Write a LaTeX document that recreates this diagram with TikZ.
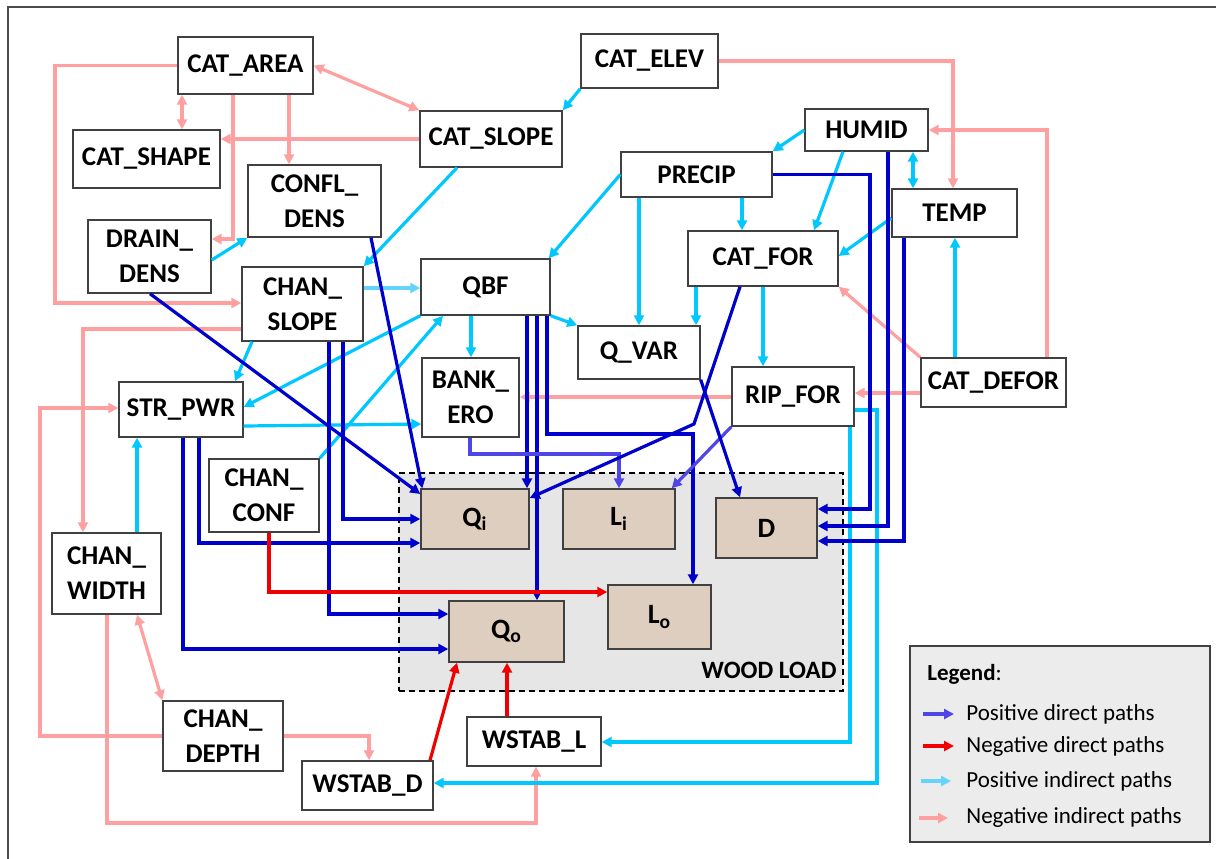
\documentclass[tikz,border=0pt]{standalone}
\usepackage{fontspec}
\setmainfont{Carlito}
\usetikzlibrary{arrows.meta}
\definecolor{dblue}{RGB}{0,0,205}
\definecolor{pblue}{RGB}{80,70,230}
\definecolor{redc}{RGB}{240,0,0}
\definecolor{cyanc}{RGB}{0,200,255}
\definecolor{lcyan}{RGB}{100,212,255}
\definecolor{pinkc}{RGB}{255,160,160}
\definecolor{tanc}{RGB}{222,206,192}
\definecolor{woodc}{RGB}{230,230,230}
\definecolor{legc}{RGB}{236,236,236}
\tikzset{
  Tr/.tip={Triangle[length=5pt,width=5pt]},
  box/.style={draw=black!75, line width=0.7pt, fill=white, inner sep=0pt, align=center,
    font=\bfseries\fontsize{13.5}{17.5}\selectfont},
  tanbox/.style={fill=tanc, font=\bfseries\fontsize{14}{16}\selectfont},
  woodbox/.style={draw=black, fill=woodc, line width=1pt, dash pattern=on 3pt off 2pt},
  legbox/.style={draw=black!75, fill=legc, line width=0.8pt},
  legtext/.style={font=\fontsize{11.5}{13}\selectfont, inner sep=0pt},
  conn/.style={line width=1.6pt, -Tr},
  pdir/.style={conn, draw=dblue},
  pdirl/.style={conn, draw=pblue},
  ndir/.style={conn, draw=redc},
  pind/.style={conn, draw=cyanc},
  pindl/.style={conn, draw=lcyan},
  nind/.style={conn, draw=pinkc},
  twoway/.style={Tr-Tr},
}
\newcommand\Bx[7][]{\node[box,#1,minimum width={0.5pt*(#5-#3)},minimum height={0.5pt*(#6-#4)}] (#2) at ({(#3+#5)/2},{(#4+#6)/2}) {#7};}
\begin{document}
\begin{tikzpicture}[x=0.5pt,y=-0.5pt]
\useasboundingbox (0,0) rectangle (1216,858);
\draw[black!70, line width=0.6pt] (8,862) -- (8,7) -- (1220,7);
% wood load area
\Bx[woodbox]{wood}{399}{473}{843}{691}{}
\node[font=\bfseries\fontsize{12.5}{14}\selectfont, anchor=base east, inner sep=0pt] (woodlab) at (837,678) {WOOD LOAD};
% boxes
\Bx{catarea}{178}{37}{313}{94}{CAT\_AREA}
\Bx{catshape}{73}{130}{220}{188}{CAT\_SHAPE}
\Bx{confl}{248}{165}{381}{237}{CONFL\_\\DENS}
\Bx{drain}{88}{220}{211}{293}{DRAIN\_\\DENS}
\Bx{chanslope}{242}{267}{363}{341}{CHAN\_\\SLOPE}
\Bx{catslope}{420}{111}{562}{167}{CAT\_SLOPE}
\Bx{catelev}{581}{34}{718}{88}{CAT\_ELEV}
\Bx{precip}{621}{152}{772}{197}{PRECIP}
\Bx{qbf}{421}{259}{550}{315}{QBF}
\Bx{humid}{805}{109}{928}{151}{HUMID}
\Bx{temp}{892}{189}{1017}{237}{TEMP}
\Bx{catfor}{688}{231}{838}{286}{CAT\_FOR}
\Bx{qvar}{578}{326}{700}{379}{Q\_VAR}
\Bx{bank}{422}{358}{519}{437}{BANK\_\\ERO}
\Bx{ripfor}{732}{367}{854}{426}{RIP\_FOR}
\Bx{catdefor}{921}{358}{1066}{407}{CAT\_DEFOR}
\Bx{strpwr}{119}{382}{243}{437}{STR\_PWR}
\Bx{chanconf}{209}{459}{319}{532}{CHAN\_\\CONF}
\Bx{chanwidth}{52}{533}{161}{614}{CHAN\_\\WIDTH}
\Bx{chandepth}{163}{701}{283}{771}{CHAN\_\\DEPTH}
\Bx{wstabd}{302}{761}{433}{810}{WSTAB\_D}
\Bx{wstabl}{467}{717}{601}{766}{WSTAB\_L}
\Bx[tanbox]{qi}{421}{489}{529}{549}{Q\textsubscript{i}}
\Bx[tanbox]{li}{563}{489}{675}{549}{L\textsubscript{i}}
\Bx[tanbox]{d}{716}{498}{817}{558}{D}
\Bx[tanbox]{qo}{449}{601}{564}{662}{Q\textsubscript{o}}
\Bx[tanbox]{lo}{608}{585}{711}{649}{L\textsubscript{o}}
% negative indirect (pink)
\draw[nind] (catarea.west) -| (55,303) -- (chanslope.west |- 0,303);
\draw[nind,twoway] (catarea.east) -- (catslope.north west);
\draw[nind,twoway] (catarea.south -| 182,0) -- (catshape.north -| 182,0);
\draw[nind] (catslope.west) -- (catshape.east |- catslope.west);
\draw[nind] (catarea.south -| 233,0) |- (drain.east |- 0,239);
\draw[nind] (catarea.south -| 289,0) -- (confl.north -| 289,0);
\draw[nind] (catelev.east) -| (temp.north -| 953,0);
\draw[nind] (catdefor.north -| 1047,0) |- (humid.east);
\draw[nind] (catdefor.north west) -- (catfor.south east);
\draw[nind] (catdefor.west |- 0,393) -- (ripfor.east |- 0,393);
\draw[nind] (ripfor.west |- 0,397) -- (bank.east |- 0,397);
\draw[nind] (chanslope.west |- 0,329) -| (chanwidth.north -| 83,0);
\draw[nind] (chandepth.west) -| (40,408) -- (strpwr.west |- 0,408);
\draw[nind,twoway] (chanwidth.south -| 137,0) -- (chandepth.north west);
\draw[nind] (chandepth.east) -| (wstabd.north -| 369,0);
\draw[nind] (chanwidth.south -| 107,0) |- (536,823) -- (wstabl.south -| 536,0);
% positive indirect (light blue)
\draw[pind] (catelev.south west) -- (catslope.north east);
\draw[pind] (humid.west) -- (precip.north east);
\draw[pind] (catslope.south -| 457,0) -- (chanslope.north east);
\draw[pind] (precip.west) -- ([xshift=-1pt]qbf.north east);
\draw[pind] (drain.east |- 0,260) -- (confl.south west);
\draw[pindl] (chanslope.east |- 0,288) -- (qbf.west |- 0,288);
\draw[pind] (precip.south -| 639,0) -- (qvar.north -| 639,0);
\draw[pind] (precip.south -| 742,0) -- (catfor.north -| 742,0);
\draw[pind] (humid.south -| 843,0) -- (catfor.north -| 814,0);
\draw[pind,twoway] (humid.south -| 913,0) -- (temp.north -| 913,0);
\draw[pind] (temp.west |- 0,218) -- (catfor.east |- 0,256);
\draw[pind] (catdefor.north -| 955,0) -- (temp.south -| 955,0);
\draw[pind] (catfor.south -| 696,0) -- (qvar.north -| 696,0);
\draw[pind] (catfor.south -| 763,0) -- (ripfor.north -| 763,0);
\draw[pind] (qbf.south -| 471,0) -- (bank.north -| 471,0);
\draw[pind] (qbf.south east) -- (qvar.north west);
\draw[pind] (qbf.south west) -- (strpwr.east |- 0,407);
\draw[pind] (chanconf.north east) -- (qbf.south -| 443,0);
\draw[pind] (chanslope.south -| 252,0) -- (strpwr.north -| 235,0);
\draw[pind] (chanwidth.north -| 137,0) -- (strpwr.south -| 137,0);
\draw[pind] (strpwr.east |- 0,426) -- (bank.west |- 0,424);
\draw[pind] (ripfor.east |- 0,410) -| (877,783) -- (wstabd.east |- 0,783);
\draw[pind] (ripfor.south -| 850,0) |- (wstabl.east |- 0,742);
% positive direct (dark blue)
\draw[pdir] (confl.south -| 371,0) -- ([xshift=1pt]qi.north west);
\draw[pdir] (drain.south -| 150,0) -- (qi.west |- 0,494);
\draw[pdir] (chanslope.south -| 329,0) |- (qo.west |- 0,614);
\draw[pdir] (chanslope.south -| 343,0) |- (qi.west);
\draw[pdir] (strpwr.south -| 199,0) |- (qi.west |- 0,543);
\draw[pdir] (strpwr.south -| 183,0) |- (qo.west |- 0,649);
\draw[pdir] (qbf.south -| 527,0) -- (qi.north -| 527,0);
\draw[pdir] (qbf.south -| 537,0) -- (qo.north -| 537,0);
\draw[pdir] (qbf.south -| 547,0) |- (693,434) -- (lo.north -| 693,0);
\draw[pdirl] (bank.south -| 470,0) |- (619,454) -- (li.north -| 619,0);
\draw[pdirl] (ripfor.south west) -- ([xshift=-2pt]li.north east);
\draw[pdir] (catfor.south -| 740,0) -- (694,424) -- (qi.east |- 0,498);
\draw[pdir] (qvar.south east) -- (d.north -| 740,0);
\draw[pdir] (precip.east) -| (870,509) -- (d.east |- 0,509);
\draw[pdir] (humid.south -| 888,0) |- (d.east |- 0,526);
\draw[pdir] (temp.south -| 904,0) |- (d.east |- 0,541);
% negative direct (red)
\draw[ndir] (chanconf.south -| 269,0) |- (lo.west |- 0,592);
\draw[ndir] (wstabd.north -| 430,0) -- (qo.south -| 457,0);
\draw[ndir] (wstabl.north -| 507,0) -- (qo.south -| 507,0);
% legend
\Bx[legbox]{legend}{910}{646}{1210}{842}{}
\node[legtext, anchor=base west] (legtitle) at (927,680) {\textbf{Legend}:};
\coordinate (la1) at (923,714); \coordinate (lb1) at (954,714);
\coordinate (la2) at (923,746); \coordinate (lb2) at (954,746);
\coordinate (la3) at (921,781); \coordinate (lb3) at (951,781);
\coordinate (la4) at (919,818); \coordinate (lb4) at (948,818);
\draw[pdirl] (la1) -- (lb1);
\draw[ndir] (la2) -- (lb2);
\draw[pindl] (la3) -- (lb3);
\draw[nind] (la4) -- (lb4);
\node[legtext, anchor=base west] (lt1) at (966,720) {Positive direct paths};
\node[legtext, anchor=base west] (lt2) at (966,752) {Negative direct paths};
\node[legtext, anchor=base west] (lt3) at (966,787) {Positive indirect paths};
\node[legtext, anchor=base west] (lt4) at (966,823) {Negative indirect paths};
\end{tikzpicture}
\end{document}
